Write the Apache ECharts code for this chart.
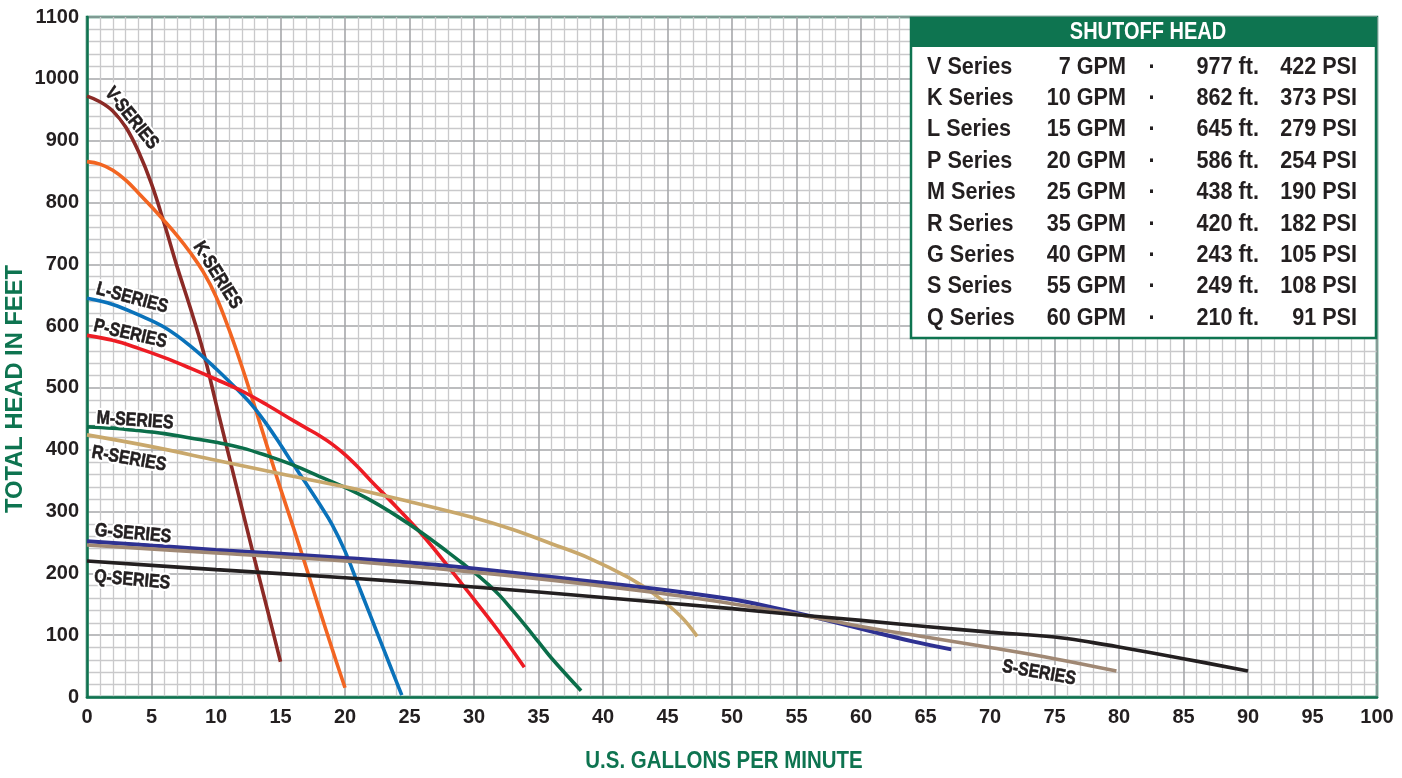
<!DOCTYPE html>
<html>
<head>
<meta charset="utf-8">
<script src="https://cdn.jsdelivr.net/npm/echarts@6/dist/echarts.min.js"></script>
<style>
html,body{margin:0;padding:0;background:#fff;}
#c{width:1402px;height:778px;}
</style>
</head>
<body>
<div id="c"></div>
<script>
// ---- data (GPM, feet) ----
const vSeries = [[0,972],[1,963],[2,948],[3,922],[4,882],[5,830],[6,765],[7,695],[8,630],[9,560],[10,475],[11,390],[12,306],[13,222],[14,140],[15,57]];
const kSeries = [[0,866],[1,862],[2,852],[3,836],[4,815],[5,793],[6,770],[7,746],[8,719],[9,688],[10,648],[11,595],[12,535],[13,470],[14,403],[15,337],[16,274],[17,209],[18,143],[19,78],[20,15]];
const lSeries = [[0,645],[2,635],[4,618],[6,598],[8,568],[10,531],[12,490],[13,467],[14,439],[15,408],[16,376],[17,345],[18,313],[19,279],[20,236],[21,183],[22,130],[23,77],[24,24],[24.4,3]];
const pSeries = [[0,585],[2,577],[4,564],[6,549],[8,532],[10,514],[12,495],[14,472],[16,447],[17,435],[18,423],[19,409],[20,392],[21,372],[22,350],[24,307],[26,262],[28,211],[30,158],[32,104],[33.9,48]];
const mSeries = [[0,437],[2,435],[4,431],[6,426],[8,419],[10,412],[12,403],[14,390],[16,375],[18,357],[20,339],[22,318],[24,293],[26,265],[28,234],[29,218],[30,202],[31,184],[32,164],[33,140],[34,115],[35,89],[36,63],[38.3,10]];
const rSeries = [[0,424],[5,405],[10,383],[15,361],[20,340],[25,316],[30,290],[33,271],[36,248],[39,224],[42,193],[44,166],[46,131],[47.3,98]];
const gSeries = [[0,252],[10,238],[20,225],[28,212],[36,194],[44,175],[50,158],[52,150],[55,136],[58,121],[61,105],[64,90],[67,77]];
const sSeries = [[0,246],[10,233],[20,220],[28,206],[36,189],[44,169],[50,151],[55,134],[60,114],[65,97],[70,80],[75,62],[79.8,42]];
const qSeries = [[0,220],[10,206],[20,193],[30,178],[40,161],[50,143],[55,133],[60,124],[65,114],[70,105],[75,97],[78,88],[80,81],[85,62],[90,42]];

const seriesNames  = ['V-SERIES','K-SERIES','L-SERIES','P-SERIES','M-SERIES','R-SERIES','G-SERIES','S-SERIES','Q-SERIES'];
const seriesData   = [vSeries,kSeries,lSeries,pSeries,mSeries,rSeries,gSeries,sSeries,qSeries];
const seriesColors = ['#8b2a26','#f26522','#0a72ba','#ed1c24','#0b6e4a','#c9a86c','#2e3192','#a08874','#231f20'];
// label centre (data coords) and angle (deg, clockwise)
const labelPos   = [[3.45,936],[10.1,682],[3.5,645],[3.35,587],[3.72,447],[3.26,385],[3.57,264],[73.8,39],[3.5,189]];
const labelAngle = [51,58,15,13,4,10,5,10,5];

// shutoff head table
const tblSeries = ['V Series','K Series','L Series','P Series','M Series','R Series','G Series','S Series','Q Series'];
const tblGpm    = ['7 GPM','10 GPM','15 GPM','20 GPM','25 GPM','35 GPM','40 GPM','55 GPM','60 GPM'];
const tblFt     = ['977 ft.','862 ft.','645 ft.','586 ft.','438 ft.','420 ft.','243 ft.','249 ft.','210 ft.'];
const tblPsi    = ['422 PSI','373 PSI','279 PSI','254 PSI','190 PSI','182 PSI','105 PSI','108 PSI','91 PSI'];

const FONT = "'Liberation Sans',Arial,sans-serif";
const GREEN = '#0e7450';
const INK = '#231f20';

const chart = echarts.init(document.getElementById('c'));

const series = seriesData.map((d,i)=>({
  type:'line', name:seriesNames[i], data:d, showSymbol:false, symbol:'none',
  smooth:0.4, lineStyle:{color:seriesColors[i], width: i===6 ? 4 : 3.6, cap:'butt'},
  z: 3 + i, animation:false
}));

const axisCommon = {
  axisLine:{show:true, lineStyle:{color:GREEN, width:2.5}},
  axisTick:{show:false},
  axisLabel:{color:INK, fontFamily:FONT, fontWeight:'bold', fontSize:20, formatter:v=>String(v)},
  splitLine:{show:true, lineStyle:{color:'#a6a7aa', width:1.6}},
  minorTick:{show:false, splitNumber:5},
  minorSplitLine:{show:true, lineStyle:{color:'#c9c9cb', width:1.3}}
};

chart.setOption({
  animation:false,
  grid:{left:87, right:25, top:17, bottom:81, show:true, borderColor:GREEN, borderWidth:2.5, backgroundColor:'#fff'},
  xAxis:Object.assign({type:'value', min:0, max:100, interval:5}, axisCommon,
    {axisLabel:Object.assign({}, axisCommon.axisLabel, {margin:10})}),
  yAxis:Object.assign({type:'value', min:0, max:1100, interval:100}, axisCommon,
    {axisLabel:Object.assign({}, axisCommon.axisLabel, {margin:8})}),
  series: series
});

// graphics: titles, series labels, table
const g = [];
g.push({type:'text', x:16, y:389, rotation:Math.PI/2, scaleX:1.03, z:50,
  style:{text:'TOTAL HEAD IN FEET', fill:GREEN, font:"bold 23px "+FONT, textAlign:'center', textVerticalAlign:'middle'}});
g.push({type:'text', x:724, y:762, scaleX:0.89, z:50,
  style:{text:'U.S. GALLONS PER MINUTE', fill:GREEN, font:"bold 23px "+FONT, textAlign:'center', textVerticalAlign:'middle'}});

const LFONT = "bold 19px "+FONT;
labelPos.forEach((p,i)=>{
  const px = chart.convertToPixel({gridIndex:0}, p);
  const rot = -labelAngle[i]*Math.PI/180;
  g.push({type:'text', x:px[0], y:px[1], rotation:rot, scaleX:0.84, z:59, silent:true,
    style:{text:seriesNames[i], fill:'#ffffff', stroke:'#ffffff', lineWidth:5,
      font:LFONT, textAlign:'center', textVerticalAlign:'middle'}});
  g.push({type:'text', x:px[0], y:px[1], rotation:rot, scaleX:0.84, z:60,
    style:{text:seriesNames[i], fill:INK, stroke:INK, lineWidth:0.6,
      font:LFONT, textAlign:'center', textVerticalAlign:'middle'}});
});

// table
const tx = 911, ty = 18, tw = 465, th = 320;
g.push({type:'rect', shape:{x:tx, y:ty, width:tw, height:th}, z:70,
  style:{fill:'#fff', stroke:GREEN, lineWidth:2.5}});
g.push({type:'rect', shape:{x:tx, y:ty, width:tw, height:29}, z:71, style:{fill:GREEN}});
g.push({type:'text', x:1148, y:33, scaleX:0.87, z:72,
  style:{text:'SHUTOFF HEAD', fill:'#fff', font:"bold 23px "+FONT, textAlign:'center', textVerticalAlign:'middle'}});
const tfont = "bold 24px "+FONT;
const cell = (txt, x, y, align) => ({type:'text', x:x, y:y, scaleX:0.9, z:72,
  style:{text:txt, fill:INK, font:tfont, textAlign:align, textVerticalAlign:'middle'}});
tblSeries.forEach((s,i)=>{
  const y = 67 + i*31.4;
  g.push(cell(s, 927, y, 'left'));
  g.push(cell(tblGpm[i], 1126, y, 'right'));
  g.push(cell('·', 1152, y, 'center'));
  g.push(cell(tblFt[i], 1259, y, 'right'));
  g.push(cell(tblPsi[i], 1357, y, 'right'));
});

chart.setOption({graphic:g});
</script>
</body>
</html>
